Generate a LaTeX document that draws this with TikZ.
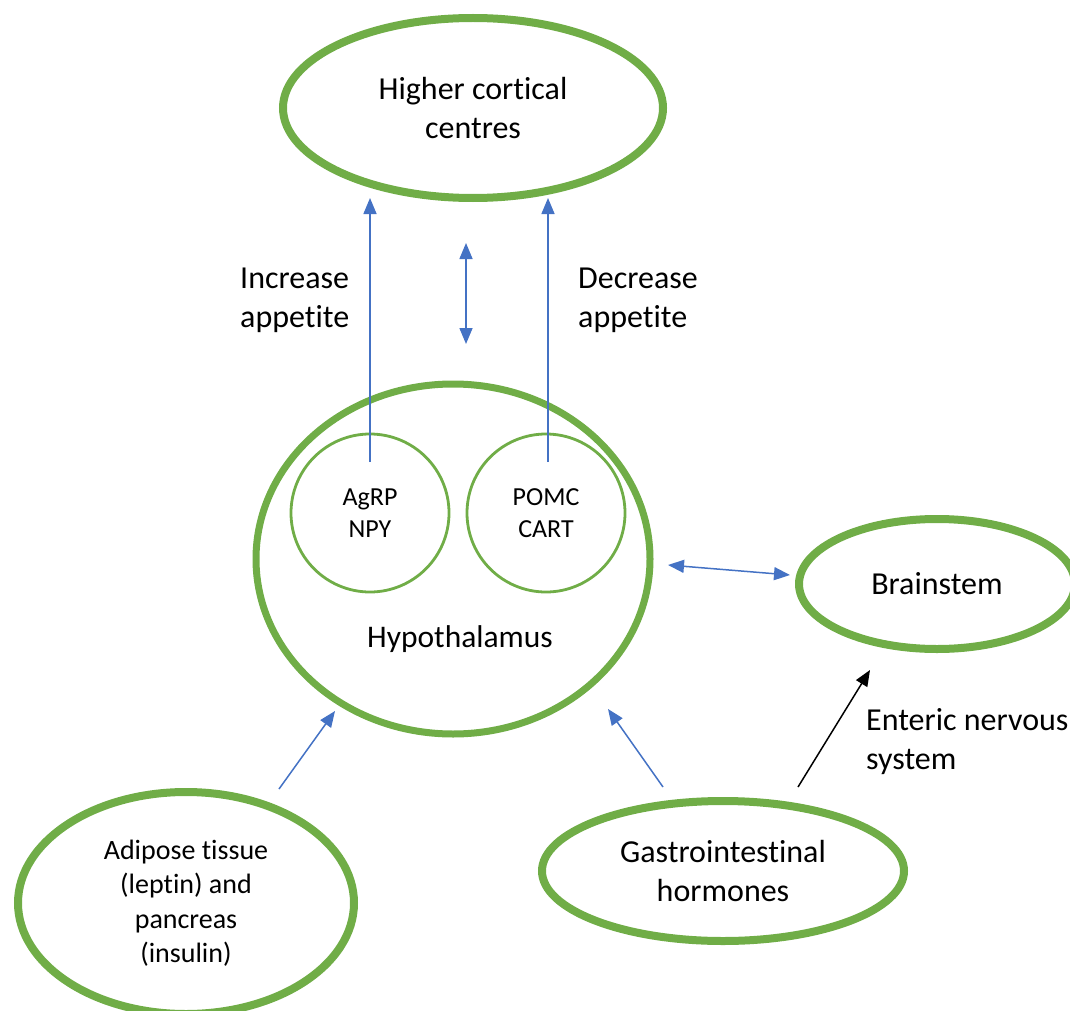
\documentclass[tikz,border=0pt]{standalone}
\usepackage{fontspec}
\setmainfont{Carlito}[Ligatures=NoCommon]
\usetikzlibrary{shapes.geometric,arrows.meta}
\definecolor{grn}{HTML}{70AD47}
\definecolor{blu}{HTML}{4472C4}
\tikzset{
  big/.style={draw=grn, line width=8pt, ellipse, inner sep=0pt, align=center, font=\fontsize{32}{38.5}\selectfont},
  small/.style={draw=grn, line width=2.8pt, circle, inner sep=0pt, minimum size=158pt, align=center, font=\fontsize{26}{32}\selectfont},
  lab/.style={align=left, inner sep=0pt, font=\fontsize{32}{39}\selectfont},
  barrow/.style={draw=blu, line width=1.5pt, -{Triangle[length=16pt,width=13pt]}},
  dbarrow/.style={draw=blu, line width=1.5pt, {Triangle[length=16pt,width=13pt]}-{Triangle[length=16pt,width=13pt]}},
  karrow/.style={draw=black, line width=1.5pt, -{Triangle[length=16pt,width=13pt]}}
}
\begin{document}
\begin{tikzpicture}[x=1pt,y=-1pt]
\useasboundingbox (0,0) rectangle (1070,1011);
% shapes
\node[big, minimum width=380pt, minimum height=180pt] (hcc) at (473,108) {Higher cortical\\centres};
\node[big, line width=7pt, minimum width=394pt, minimum height=350pt] (hyp) at (453,559) {};
\node[inner sep=0pt, anchor=base, font=\fontsize{31.5}{38}\selectfont] (hyplab) at (460,647) {Hypothalamus};
\node[small] (agrp) at (370,513) {AgRP\\NPY};
\node[small] (pomc) at (546,513) {POMC\\CART};
\node[big, minimum width=276pt, minimum height=130pt] (brain) at (937,584) {Brainstem};
\node[big, minimum width=336pt, minimum height=222pt, font=\fontsize{28}{34.5}\selectfont] (adip) at (186,903) {Adipose tissue\\(leptin) and\\pancreas\\(insulin)};
\node[big, minimum width=362pt, minimum height=140pt] (gi) at (723,871) {Gastrointestinal\\hormones};
% labels (base = baseline of last line)
\node[lab, anchor=base west] (inc) at (240,327) {Increase\\appetite};
\node[lab, anchor=base west] (dec) at (578,327) {Decrease\\appetite};
\node[lab, anchor=base west] (ens) at (866,769) {Enteric nervous\\system};
% connector end points
\coordinate (a1) at (370,462); \coordinate (a2) at (370,198);
\coordinate (p1) at (548,462); \coordinate (p2) at (548,198);
\coordinate (m1) at (466,243); \coordinate (m2) at (466,344);
\coordinate (h1) at (668,565); \coordinate (h2) at (790,575);
\coordinate (d1) at (279,789); \coordinate (d2) at (335,711);
\coordinate (g1) at (663,787); \coordinate (g2) at (608,709);
\coordinate (e1) at (798,787); \coordinate (e2) at (870,670);
% connectors
\draw[barrow] (a1) -- (a2);
\draw[barrow] (p1) -- (p2);
\draw[dbarrow] (m1) -- (m2);
\draw[dbarrow] (h1) -- (h2);
\draw[barrow] (d1) -- (d2);
\draw[barrow] (g1) -- (g2);
\draw[karrow] (e1) -- (e2);
\end{tikzpicture}
\end{document}
